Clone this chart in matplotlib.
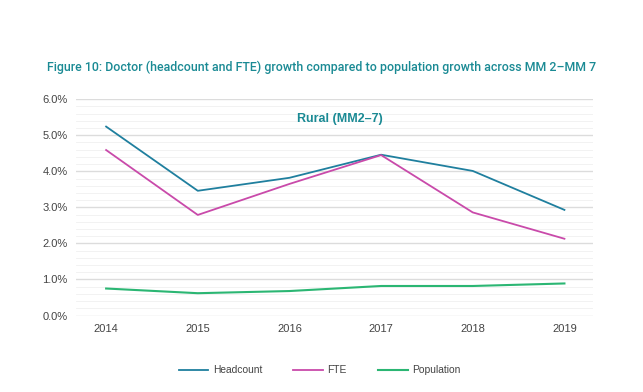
import matplotlib
matplotlib.use('Agg')
import matplotlib.pyplot as plt
from matplotlib.ticker import MultipleLocator, FuncFormatter

plt.rcParams['font.family'] = ['Liberation Sans', 'DejaVu Sans']

# data (growth, %)
years = [2014, 2015, 2016, 2017, 2018, 2019]
headcount = [5.24, 3.46, 3.82, 4.46, 4.01, 2.93]
fte = [4.59, 2.79, 3.65, 4.45, 2.86, 2.13]
population = [0.75, 0.62, 0.68, 0.82, 0.82, 0.89]

teal = '#1a8a94'

fig = plt.figure(figsize=(6.43, 3.92), dpi=100)
ax = fig.add_axes([0.118, 0.195, 0.804, 0.552])

ax.plot(years, headcount, color='#1f7f9e', lw=1.3, label='Headcount')
ax.plot(years, fte, color='#c94aaa', lw=1.3, label='FTE')
ax.plot(years, population, color='#2bb673', lw=1.5, label='Population')

ax.set_ylim(0, 6.0)
ax.set_xlim(2014 - 0.33, 2019 + 0.31)
ax.yaxis.set_major_locator(MultipleLocator(1.0))
ax.yaxis.set_minor_locator(MultipleLocator(0.2))
ax.yaxis.set_major_formatter(FuncFormatter(lambda v, p: '%.1f%%' % v))
ax.set_xticks(years)
ax.grid(axis='y', which='major', color='#dcdcdc', lw=1.0)
ax.grid(axis='y', which='minor', color='#f0f0f0', lw=0.6)
ax.set_axisbelow(True)
for s in ax.spines.values():
    s.set_visible(False)
ax.tick_params(length=0, labelsize=8, colors='#444444', pad=6)
ax.tick_params(axis='y', which='minor', length=0)
ax.tick_params(axis='x', pad=6)

ax.text(2016.08, 5.45, 'Rural (MM2\u20137)', color=teal, fontsize=9,
        fontweight='bold', ha='left', va='center')

fig.text(0.073, 0.828, 'Figure 10: Doctor (headcount and FTE) growth compared to population growth across MM 2\u2013MM 7',
         color=teal, fontsize=8.93, ha='left', va='center',
         family=['Roboto', 'DejaVu Sans'], fontweight='medium')

fig.legend(loc='center', bbox_to_anchor=(0.497, 0.055), ncol=3, frameon=False,
           fontsize=7.4, handlelength=2.9, handletextpad=0.45, columnspacing=3.0,
           labelcolor='#444444')

fig.savefig('out.png', dpi=100, facecolor='white')
